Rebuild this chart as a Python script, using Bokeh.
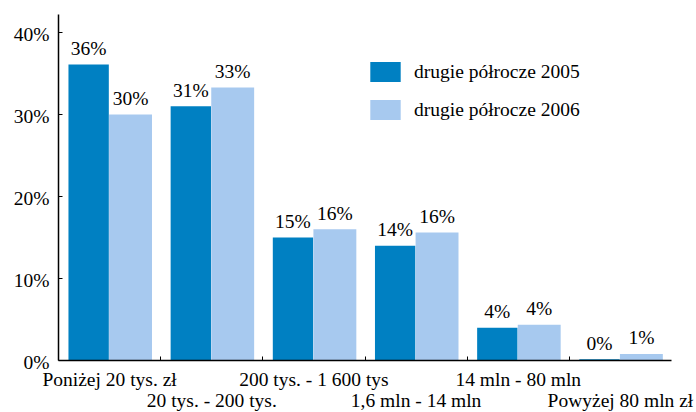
from bokeh.plotting import figure
from bokeh.models import (FixedTicker, LinearAxis, Range1d, Legend, LegendItem,
                          ColumnDataSource)
from bokeh.core.properties import value
from bokeh.embed import file_html
from bokeh.resources import INLINE

categories = ["Poniżej 20 tys. zł", "20 tys. - 200 tys.", "200 tys. - 1 600 tys",
              "1,6 mln - 14 mln", "14 mln - 80 mln", "Powyżej 80 mln zł"]
series_names = ["drugie półrocze 2005", "drugie półrocze 2006"]
values_2005 = [36.1, 31.0, 15.0, 14.0, 4.0, 0.15]
values_2006 = [30.0, 33.3, 16.0, 15.6, 4.35, 0.8]
labels_2005 = ["36%", "31%", "15%", "14%", "4%", "0%"]
labels_2006 = ["30%", "33%", "16%", "16%", "4%", "1%"]
y_ticks = [0, 10, 20, 30, 40]
y_tick_labels = ["0%", "10%", "20%", "30%", "40%"]

FONT = "Liberation Serif"
FS = "19.5px"
DARK = "#0080C2"
LIGHT = "#A7C9EF"
W, H = 696, 412
PX_PER_PCT = 8.2        # vertical scale (px per percentage point)
PX_PER_CAT = 102.17     # horizontal scale (px per category)
ZERO_X, ZERO_Y = 58, 360
AXIS_TOP = 42.2

n = len(categories)
x_range = Range1d(-ZERO_X / PX_PER_CAT, n + (W - ZERO_X - n * PX_PER_CAT) / PX_PER_CAT)
y_range = Range1d(-(H - ZERO_Y) / PX_PER_PCT, ZERO_Y / PX_PER_PCT)

p = figure(width=W, height=H, output_backend="svg", toolbar_location=None,
           x_range=x_range, y_range=y_range, x_axis_type=None, y_axis_type=None,
           min_border=0, min_border_left=0, min_border_right=0,
           min_border_top=0, min_border_bottom=0)
p.outline_line_color = None
p.grid.visible = False
p.background_fill_color = "white"
p.border_fill_color = "white"

idx = list(range(n))
src1 = ColumnDataSource(dict(x=[i + 0.295 for i in idx], top=values_2005, lab=labels_2005))
src2 = ColumnDataSource(dict(x=[i + 0.705 for i in idx], top=values_2006, lab=labels_2006))
r1 = p.vbar(x="x", top="top", bottom=0, width=0.395, source=src1, fill_color=DARK, line_color=None)
r2 = p.vbar(x="x", top="top", bottom=0, width=0.42, source=src2, fill_color=LIGHT, line_color=None)

text_style = dict(text_font=value(FONT), text_font_size=FS, text_color="black")

# value labels above bars
for src in (src1, src2):
    p.text(x="x", y="top", text="lab", source=src, text_align="center",
           text_baseline="alphabetic", y_offset=-16, **text_style)

# category labels under the zero line, alternating between two rows
cat_src1 = ColumnDataSource(dict(x=[i + 0.5 for i in idx[0::2]], y=[0] * len(idx[0::2]),
                                 t=categories[0::2]))
cat_src2 = ColumnDataSource(dict(x=[i + 0.5 for i in idx[1::2]], y=[0] * len(idx[1::2]),
                                 t=categories[1::2]))
for src, off in ((cat_src1, 19), (cat_src2, 40)):
    p.text(x="x", y="y", text="t", source=src, text_align="center",
           text_baseline="alphabetic", y_offset=off, **text_style)

# y tick labels
ytl_src = ColumnDataSource(dict(x=[0] * len(y_ticks), y=y_ticks, t=y_tick_labels))
p.text(x="x", y="y", text="t", source=ytl_src, text_align="right",
       text_baseline="alphabetic", x_offset=-9, y_offset=2, **text_style)

# y axis: line at x = 0 with short inward ticks
yax = LinearAxis(ticker=FixedTicker(ticks=[], minor_ticks=y_ticks), bounds=(0, AXIS_TOP),
                 fixed_location=0)
yax.major_tick_line_color = None
yax.major_tick_in = 0
yax.major_tick_out = 0
yax.minor_tick_in = 4
yax.minor_tick_out = 0
yax.major_label_standoff = 0
yax.axis_line_width = 1.5
p.add_layout(yax, "left")

# x axis: line at zero with inward ticks between categories
xax = LinearAxis(ticker=FixedTicker(ticks=[], minor_ticks=list(range(1, n))),
                 bounds=(0, n), fixed_location=0)
xax.major_tick_line_color = None
xax.major_tick_in = 0
xax.major_tick_out = 0
xax.minor_tick_in = 4
xax.minor_tick_out = 0
xax.major_label_standoff = 0
xax.axis_line_width = 1.5
p.add_layout(xax, "below")

legend = Legend(items=[LegendItem(label=series_names[0], renderers=[r1]),
                       LegendItem(label=series_names[1], renderers=[r2])],
                location=(366, 290))
legend.glyph_width = 38
legend.glyph_height = 25
legend.label_height = 25
legend.spacing = 13
legend.padding = 0
legend.margin = 0
legend.label_standoff = 10
legend.border_line_color = None
legend.background_fill_alpha = 0
legend.label_text_font = FONT
legend.label_text_font_size = FS
legend.label_text_color = "black"
p.add_layout(legend, "center")

open("out.html", "w").write(file_html(p, INLINE))
